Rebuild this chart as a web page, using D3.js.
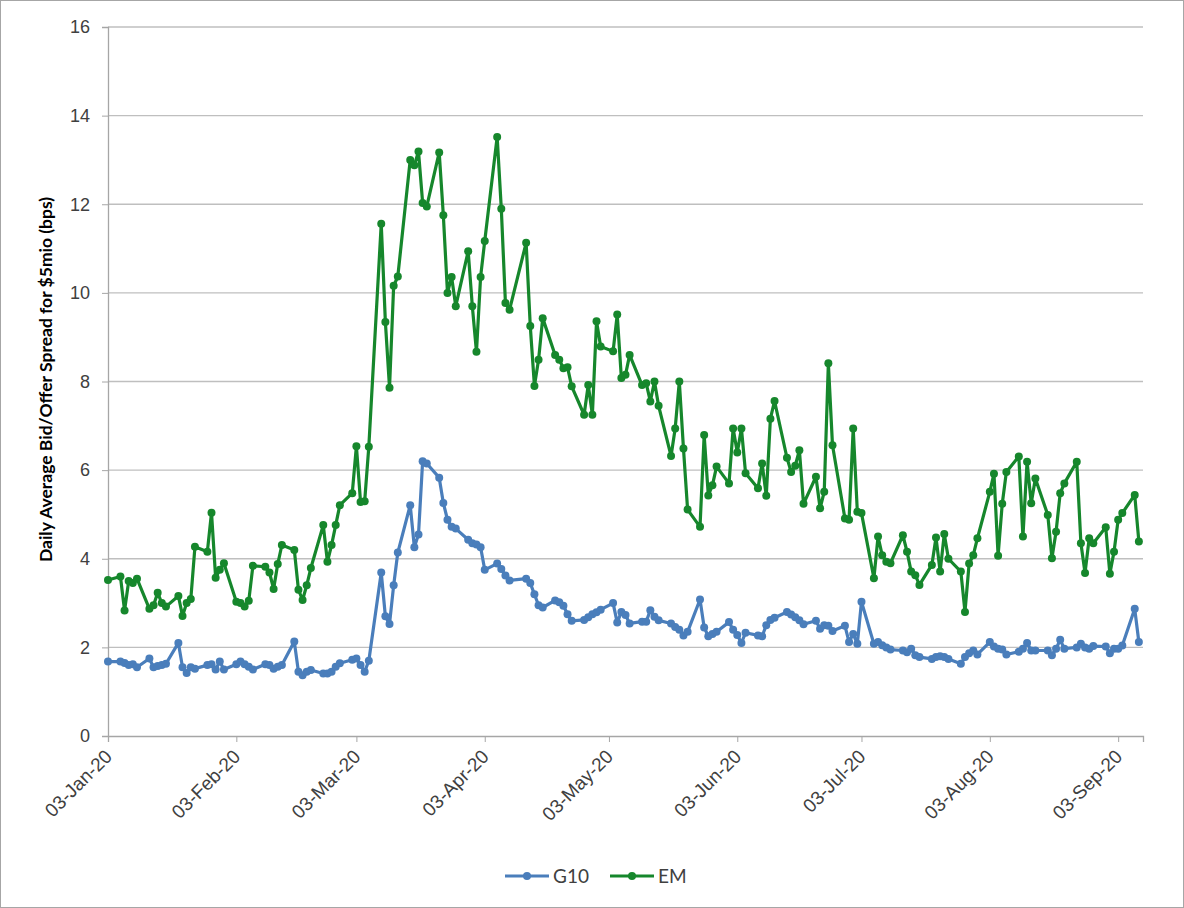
<!DOCTYPE html>
<html>
<head>
<meta charset="utf-8">
<script src="https://cdn.jsdelivr.net/npm/d3@7"></script>
<style>
  body { margin: 0; background: #fff; }
  svg { display: block; font-family: Lato, "Open Sans", sans-serif; }
</style>
</head>
<body>
<div id="chart"></div>
<script>
// Trading days: weekdays from 03-Jan-20 to 08-Sep-20, Good Friday missing
const firstDay = "2020-01-03";
const lastDay = "2020-09-08";
const holidays = ["2020-04-10"];

// one line per week
const g10 = [
    1.68,
    1.68, 1.65, 1.6, 1.62, 1.55,
    1.75, 1.55, 1.58, 1.6, 1.63,
    2.1, 1.55, 1.42, 1.55, 1.52,
    1.6, 1.62, 1.5, 1.68, 1.5,
    1.62, 1.68, 1.62, 1.56, 1.5,
    1.62, 1.6, 1.52, 1.56, 1.6,
    2.13, 1.45, 1.37, 1.45, 1.49,
    1.41, 1.41, 1.45, 1.56, 1.64,
    1.72, 1.75, 1.6, 1.45, 1.7,
    3.69, 2.7, 2.53, 3.4, 4.14,
    5.21, 4.26, 4.55, 6.2, 6.15,
    5.83, 5.26, 4.88, 4.72, 4.68,
    4.43, 4.35, 4.32, 4.26, 3.75,
    3.89, 3.77, 3.62, 3.51,
    3.55, 3.45, 3.2, 2.95, 2.9,
    3.06, 3.02, 2.94, 2.75, 2.6,
    2.62, 2.68, 2.75, 2.79, 2.85,
    3.0, 2.56, 2.8, 2.73, 2.54,
    2.58, 2.58, 2.84, 2.69, 2.61,
    2.54, 2.46, 2.4, 2.27, 2.35,
    3.08, 2.45, 2.25, 2.3, 2.35,
    2.57, 2.4, 2.28, 2.1, 2.33,
    2.27, 2.25, 2.5, 2.62, 2.67,
    2.8, 2.74, 2.68, 2.61, 2.52,
    2.6, 2.42, 2.5, 2.49, 2.37,
    2.49, 2.12, 2.3, 2.08, 3.03,
    2.08, 2.12, 2.05, 2.0, 1.95,
    1.93, 1.89, 1.97, 1.82, 1.78,
    1.74, 1.78, 1.8, 1.78, 1.74,
    1.63, 1.78, 1.87, 1.93, 1.84,
    2.12, 2.02, 1.97, 1.95, 1.84,
    1.9, 1.97, 2.1, 1.93, 1.93,
    1.93, 1.82, 1.97, 2.17, 1.97,
    2.0, 2.08, 2.0, 1.97, 2.03,
    2.02, 1.87, 1.97, 1.97, 2.04,
    2.87, 2.12
];

const em = [
    3.52,
    3.6, 2.83, 3.5, 3.45, 3.55,
    2.87, 2.95, 3.23, 3.0, 2.92,
    3.16, 2.71, 3.0, 3.09, 4.27,
    4.16, 5.04, 3.57, 3.75, 3.9,
    3.03, 3.0, 2.92, 3.05, 3.84,
    3.82, 3.69, 3.32, 3.88, 4.31,
    4.2, 3.3, 3.07, 3.4, 3.79,
    4.76, 3.93, 4.31, 4.76, 5.21,
    5.48, 6.54, 5.28, 5.3, 6.53,
    11.56, 9.34, 7.86, 10.16, 10.37,
    13.0, 12.88, 13.19, 12.03, 11.95,
    13.17, 11.75, 10.0, 10.36, 9.7,
    10.94, 9.7, 8.67, 10.36, 11.17,
    13.52, 11.9, 9.77, 9.62,
    11.13, 9.25, 7.9, 8.49, 9.43,
    8.6, 8.49, 8.3, 8.32, 7.89,
    7.25, 7.92, 7.25, 9.36, 8.79,
    8.68, 9.51, 8.08, 8.15, 8.6,
    7.92, 7.96, 7.55, 8.0, 7.45,
    6.32, 6.94, 8.0, 6.49, 5.11,
    4.72, 6.79, 5.43, 5.66, 6.08,
    5.7, 6.94, 6.4, 6.94, 5.93,
    5.59, 6.15, 5.42, 7.16, 7.56,
    6.28, 5.96, 6.1, 6.45, 5.24,
    5.85, 5.14, 5.51, 8.41, 6.56,
    4.91, 4.88, 6.94, 5.06, 5.03,
    3.56, 4.5, 4.08, 3.93, 3.9,
    4.53, 4.16, 3.71, 3.63, 3.41,
    3.86, 4.48, 3.71, 4.56, 4.0,
    3.71, 2.8, 3.89, 4.08, 4.46,
    5.51, 5.92, 4.07, 5.24, 5.96,
    6.31, 4.5, 6.19, 5.25, 5.81,
    4.99, 4.01, 4.61, 5.48, 5.7,
    6.19, 4.35, 3.68, 4.46, 4.35,
    4.71, 3.66, 4.16, 4.88, 5.03,
    5.44, 4.39
];

const xTicks = ["2020-01-03", "2020-02-03", "2020-03-03", "2020-04-03", "2020-05-03",
                "2020-06-03", "2020-07-03", "2020-08-03", "2020-09-03"];
const yTicks = [0, 2, 4, 6, 8, 10, 12, 14, 16];
const seriesNames = ["G10", "EM"];
const seriesColors = ["#4a7ebb", "#16872c"];
const yTitle = "Daily Average Bid/Offer Spread for $5mio (bps)";

const parse = d3.timeParse("%Y-%m-%d");
const fmtKey = d3.timeFormat("%Y-%m-%d");

const dates = d3.timeDay.range(parse(firstDay), d3.timeDay.offset(parse(lastDay), 1))
    .filter(d => d.getDay() !== 0 && d.getDay() !== 6 && !holidays.includes(fmtKey(d)));
if (dates.length !== g10.length || dates.length !== em.length) {
    console.error("length mismatch", dates.length, g10.length, em.length);
}

var W = 1184, H = 908;
var margin = {top: 27, right: 41, bottom: 172, left: 108},
    width = W - margin.left - margin.right,
    height = H - margin.top - margin.bottom;

var svg = d3.select("#chart").append("svg")
    .attr("width", W)
    .attr("height", H);

// outer frame
svg.append("rect")
    .attr("x", 0.5).attr("y", 0.5)
    .attr("width", W - 1).attr("height", H - 1)
    .attr("fill", "none")
    .attr("stroke", "#a6a6a6");

var g = svg.append("g")
    .attr("transform", `translate(${margin.left},${margin.top})`);

const x = d3.scaleTime()
    .domain([parse("2020-01-03"), parse("2020-09-09")])
    .range([0, width]);
const y = d3.scaleLinear()
    .domain([0, 16])
    .range([height, 0]);

// gridlines
g.append("g")
    .selectAll("line")
    .data(yTicks.filter(t => t > 0))
    .enter().append("line")
    .attr("x1", 0).attr("x2", width)
    .attr("y1", d => y(d)).attr("y2", d => y(d))
    .attr("stroke", "#bfbfbf")
    .attr("stroke-width", 1.3);

// y axis
var yAxis = g.append("g")
    .call(d3.axisLeft(y).tickValues(yTicks).tickSize(6).tickPadding(12).tickFormat(d3.format("d")));
yAxis.select(".domain").attr("stroke", "#a6a6a6").attr("stroke-width", 1.3);
yAxis.selectAll(".tick line").attr("stroke", "#a6a6a6");
yAxis.selectAll("text")
    .attr("fill", "#404040")
    .style("font-size", "18px");

// x axis
var xAxis = g.append("g")
    .attr("transform", `translate(0,${height})`)
    .call(d3.axisBottom(x)
        .tickValues(xTicks.map(parse))
        .tickSize(6)
        .tickFormat(d3.timeFormat("%d-%b-%y")));
xAxis.select(".domain").attr("stroke", "#a6a6a6").attr("stroke-width", 1.3);
xAxis.selectAll(".tick line").attr("stroke", "#a6a6a6");
xAxis.selectAll("text")
    .attr("fill", "#404040")
    .style("font-size", "19px")
    .style("text-anchor", "end")
    .attr("x", 0)
    .attr("y", 0)
    .attr("dy", "0.35em")
    .attr("transform", "translate(0,17) rotate(-45)");

// y title
svg.append("text")
    .attr("transform", `translate(46,${margin.top + height / 2 - 2}) rotate(-90)`)
    .attr("text-anchor", "middle")
    .attr("dy", "0.35em")
    .attr("fill", "#000")
    .style("font-size", "17.5px")
    .style("font-weight", "bold")
    .text(yTitle);

const series = [g10, em].map((vals, i) => ({
    name: seriesNames[i],
    color: seriesColors[i],
    values: vals.map((v, j) => ({date: dates[j], value: v}))
}));

const line = d3.line()
    .x(d => x(d.date))
    .y(d => y(d.value));

series.forEach(s => {
    g.append("path")
        .datum(s.values)
        .attr("fill", "none")
        .attr("stroke", s.color)
        .attr("stroke-width", 3.2)
        .attr("stroke-linejoin", "round")
        .attr("d", line);

    g.append("g")
        .selectAll("circle")
        .data(s.values)
        .enter().append("circle")
        .attr("cx", d => x(d.date))
        .attr("cy", d => y(d.value))
        .attr("r", 4)
        .attr("fill", s.color);
});

// legend
var legend = svg.append("g")
    .attr("transform", "translate(505,876)");
var items = legend.selectAll("g")
    .data(series)
    .enter().append("g")
    .attr("transform", (d, i) => `translate(${i * 105},0)`);
items.append("line")
    .attr("x1", 0).attr("x2", 44)
    .attr("stroke", d => d.color)
    .attr("stroke-width", 3);
items.append("circle")
    .attr("cx", 22).attr("r", 4)
    .attr("fill", d => d.color);
items.append("text")
    .attr("x", 48)
    .attr("dy", "0.35em")
    .attr("fill", "#404040")
    .style("font-size", "19px")
    .text(d => d.name);
</script>
</body>
</html>
